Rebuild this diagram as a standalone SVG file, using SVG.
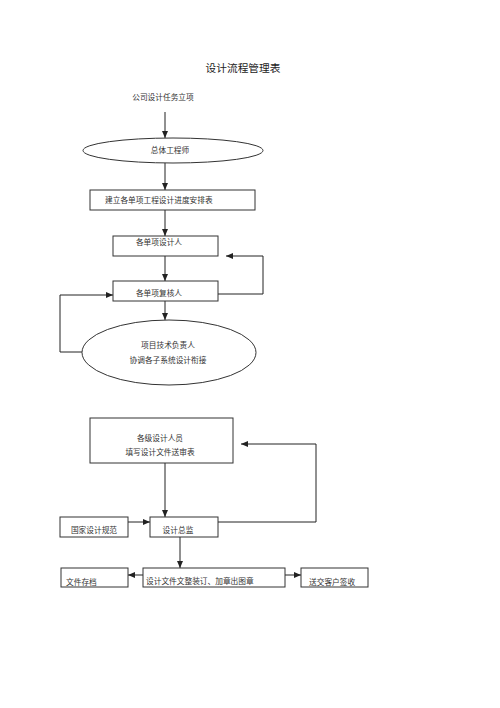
<svg xmlns="http://www.w3.org/2000/svg" width="500" height="708" viewBox="0 0 500 708">
<defs>
<marker id="ah" markerWidth="8" markerHeight="8" refX="7" refY="4" orient="auto" markerUnits="userSpaceOnUse">
<path d="M0,1 L7,4 L0,7 Z" fill="#222"/>
</marker>
<style>
text{font-family:"Noto Sans CJK SC","Liberation Serif",serif;font-size:7.7px;fill:#333}
.t{font-size:10.7px;fill:#222}
.b{fill:#fff;stroke:#333;stroke-width:1}
.c{fill:none;stroke:#222;stroke-width:1}
.a{marker-end:url(#ah)}
</style>
</defs>
<rect width="500" height="708" fill="#fff"/>
<text class="t" x="243" y="72" text-anchor="middle">设计流程管理表</text>
<text x="163" y="100" text-anchor="middle">公司设计任务立项</text>

<g id="connectors">
<path class="c a" d="M165,112 V138"/>
<path class="c a" d="M165,163 V190"/>
<path class="c a" d="M165,210 V236"/>
<path class="c a" d="M165,256 V281"/>
<path class="c a" d="M218,294 H263 V256 H226"/>
<path class="c a" d="M82,352 H60 V295 H113"/>
<path class="c a" d="M165,301 V320"/>
<path class="c a" d="M165,463 V517"/>
<path class="c a" d="M218,522 H316 V444 H241"/>
<path class="c a" d="M128,522 H150"/>
<path class="c a" d="M180,537 V568"/>
<path class="c a" d="M143,575 H128"/>
<path class="c a" d="M285,575 H301"/>
</g>

<g id="n1"><ellipse class="b" cx="173" cy="150.5" rx="90" ry="12.5"/><text x="170" y="153" text-anchor="middle">总体工程师</text></g>
<g id="n2"><rect class="b" x="90" y="190" width="165" height="20"/><text x="105" y="203">建立各单项工程设计进度安排表</text></g>
<g id="n3"><rect class="b" x="113" y="236" width="105" height="20"/><text x="159" y="245" text-anchor="middle">各单项设计人</text></g>
<g id="n4"><rect class="b" x="113" y="281" width="105" height="20"/><text x="159" y="296" text-anchor="middle">各单项复核人</text></g>
<g id="n5"><ellipse class="b" cx="169" cy="352.5" rx="87" ry="32.5"/><text x="168" y="348" text-anchor="middle">项目技术负责人</text><text x="168" y="363" text-anchor="middle">协调各子系统设计衔接</text></g>
<g id="n6"><rect class="b" x="90" y="418" width="143" height="45"/><text x="160" y="441" text-anchor="middle">各级设计人员</text><text x="160" y="455" text-anchor="middle">填写设计文件送审表</text></g>
<g id="n7"><rect class="b" x="150" y="517" width="68" height="20"/><text x="178" y="533" text-anchor="middle">设计总监</text></g>
<g id="n8"><rect class="b" x="60" y="517" width="68" height="20"/><text x="94" y="533" text-anchor="middle">国家设计规范</text></g>
<g id="n9"><rect class="b" x="143" y="568" width="142" height="19"/><text x="146" y="584">设计文件文整装订、加章出图章</text></g>
<g id="n10"><rect class="b" x="61" y="568" width="67" height="19"/><text x="66" y="585">文件存档</text></g>
<g id="n11"><rect class="b" x="301" y="568" width="67" height="19"/><text x="309" y="585">送交客户签收</text></g>
</svg>
